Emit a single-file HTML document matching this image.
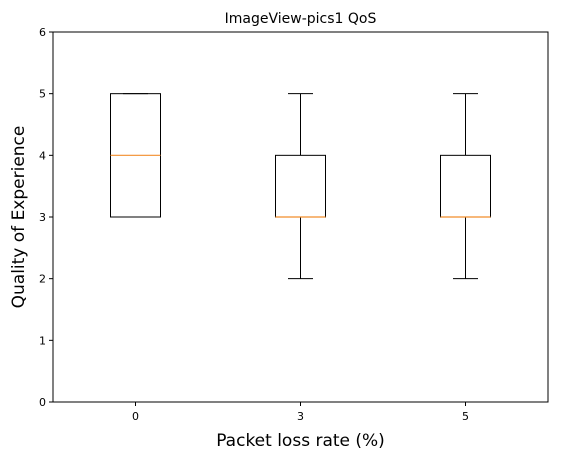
<!DOCTYPE html>
<html><head><meta charset="utf-8">
<style>
html,body{margin:0;padding:0;background:#fff;}
svg{display:block;font-family:"DejaVu Sans","Liberation Sans",sans-serif;}
</style></head>
<body>
<svg id="chart" width="562" height="460">
  <text x="300.5" y="23" text-anchor="middle" font-size="14">ImageView-pics1 QoS</text>
  <g id="ticks"></g>
  <g id="boxes"></g>
  <rect x="53" y="32" width="495" height="370" fill="none" stroke="#000" stroke-width="1"/>
  <text x="300.5" y="446" text-anchor="middle" font-size="17">Packet loss rate (%)</text>
  <text transform="translate(24,217) rotate(-90)" text-anchor="middle" font-size="17">Quality of Experience</text>
</svg>
<script>
const categories = ["0","3","5"];
const q1 = [3,3,3];
const medians = [4,3,3];
const q3 = [5,4,4];
const whiskLow = [3,2,2];
const whiskHigh = [5,5,5];
const yTicks = [0,1,2,3,4,5,6];

const NS="http://www.w3.org/2000/svg";
const L=53,R=548,T=32,B=402;
const yS=v=>B-(v-0)/(6-0)*(B-T);
const xS=i=>L+(i+1-0.5)/3*(R-L);
function mk(tag,attrs,parent){const e=document.createElementNS(NS,tag);for(const k in attrs)e.setAttribute(k,attrs[k]);parent.appendChild(e);return e;}
const tg=document.getElementById('ticks'), bg=document.getElementById('boxes');
yTicks.forEach(v=>{
  const l=mk('line',{x1:L-4,x2:L,y1:yS(v),y2:yS(v),stroke:'#000'},tg);
  
  
  const t=mk('text',{x:L-7,y:yS(v)+4,'text-anchor':'end','font-size':'11'},tg);
  t.textContent=v;
  
  
});
categories.forEach((c,i)=>{
  const x=xS(i);
  const l=mk('line',{x1:x,x2:x,y1:B,y2:B+4,stroke:'#000'},tg);
  
  
  const t=mk('text',{x:x,y:B+18,'text-anchor':'middle','font-size':'11'},tg);
  t.textContent=c;
  
  
  const g=mk('g',{},bg);
  
  
  const hw=25, cw=12.5;
  mk('line',{x1:x,x2:x,y1:yS(q1[i]),y2:yS(whiskLow[i]),stroke:'#000'},g);
  mk('line',{x1:x,x2:x,y1:yS(q3[i]),y2:yS(whiskHigh[i]),stroke:'#000'},g);
  mk('line',{x1:x-cw,x2:x+cw,y1:yS(whiskLow[i]),y2:yS(whiskLow[i]),stroke:'#000'},g);
  mk('line',{x1:x-cw,x2:x+cw,y1:yS(whiskHigh[i]),y2:yS(whiskHigh[i]),stroke:'#000'},g);
  mk('rect',{x:x-hw,y:yS(q3[i]),width:2*hw,height:yS(q1[i])-yS(q3[i]),fill:'none',stroke:'#000'},g);
  mk('line',{x1:x-hw,x2:x+hw,y1:yS(medians[i]),y2:yS(medians[i]),stroke:'#f28e2b','stroke-width':1.2},g);
});
</script>
</body></html>
